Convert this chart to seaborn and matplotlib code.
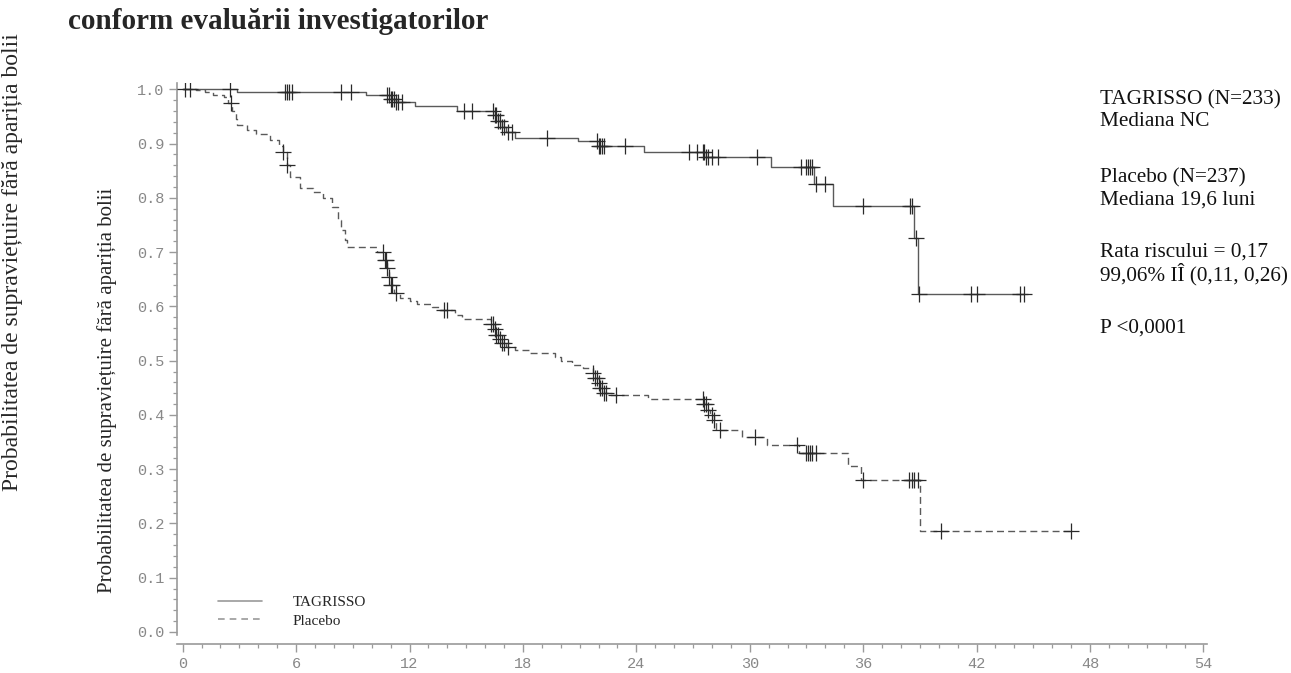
import numpy as np
import pandas as pd
import matplotlib
matplotlib.use("Agg")
import matplotlib.pyplot as plt
from matplotlib.lines import Line2D
from matplotlib.ticker import MultipleLocator, FormatStrFormatter
import seaborn as sns

# ---------------- data ----------------
arms = ["TAGRISSO", "Placebo"]

# TAGRISSO: event times (months) and Kaplan-Meier level after each event
tag_event_t = [2.9, 9.7, 11.0, 11.3, 12.3, 14.5, 16.5, 16.7, 16.9, 17.1, 17.6,
               20.9, 22.0, 24.4, 27.7, 31.1, 33.4, 34.4, 38.7, 38.9]
tag_surv = [0.996, 0.989, 0.983, 0.977, 0.969, 0.961, 0.952, 0.942, 0.931, 0.921, 0.911,
            0.905, 0.896, 0.884, 0.875, 0.856, 0.825, 0.785, 0.726, 0.622]
tag_censor_t = [0.1, 0.4, 2.5, 5.4, 5.5, 5.6, 5.8, 8.4, 8.9, 10.8, 10.9, 11.0, 11.1,
                11.2, 11.3, 11.4, 11.6, 14.9, 15.3, 16.4, 16.5, 16.6, 16.7, 16.8, 16.9,
                17.0, 17.2, 17.4, 19.3, 21.9, 22.0, 22.1, 22.2, 22.3, 23.4, 26.8, 27.2,
                27.5, 27.6, 27.7, 27.8, 28.0, 28.3, 30.4, 32.7, 33.0, 33.1, 33.2, 33.3,
                33.5, 34.0, 36.0, 38.5, 38.6, 38.8, 38.95, 41.7, 42.0, 44.3, 44.5]

# Placebo
pla_event_t = [0.7, 1.2, 1.6, 2.2, 2.4, 2.6, 2.8, 2.9, 3.4, 3.9, 4.6, 5.1, 5.3, 5.5,
               5.7, 6.2, 6.9, 7.4, 7.9, 8.2, 8.4, 8.6, 8.7, 10.3, 10.7, 10.8, 10.9,
               11.0, 11.2, 11.5, 12.0, 12.4, 13.2, 13.6, 14.4, 14.8, 16.3, 16.5, 16.6,
               16.8, 16.9, 17.1, 17.6, 18.3, 19.7, 20.0, 20.6, 21.2, 21.7, 21.8, 22.0,
               22.1, 22.3, 22.5, 24.6, 27.6, 27.8, 27.9, 28.1, 28.2, 29.6, 30.9, 32.6,
               35.2, 35.9, 39.0]
pla_surv = [0.998, 0.995, 0.990, 0.985, 0.975, 0.960, 0.945, 0.934, 0.925, 0.918,
            0.906, 0.895, 0.885, 0.860, 0.838, 0.818, 0.810, 0.800, 0.783, 0.759,
            0.740, 0.722, 0.709, 0.700, 0.685, 0.670, 0.655, 0.640, 0.625, 0.615,
            0.610, 0.605, 0.598, 0.593, 0.584, 0.576, 0.568, 0.558, 0.548, 0.540,
            0.532, 0.525, 0.519, 0.514, 0.507, 0.499, 0.492, 0.486, 0.478, 0.468,
            0.458, 0.449, 0.441, 0.436, 0.429, 0.420, 0.410, 0.400, 0.390, 0.372,
            0.359, 0.344, 0.330, 0.306, 0.280, 0.186]
pla_censor_t = [2.55, 5.3, 5.5, 10.6, 10.7, 10.75, 10.8, 10.9, 11.0, 11.1, 11.3, 13.8,
                14.0, 16.3, 16.4, 16.5, 16.6, 16.7, 16.8, 16.9, 17.0, 17.2, 21.7, 21.8,
                21.9, 22.0, 22.1, 22.2, 22.3, 22.4, 22.9, 27.5, 27.6, 27.7, 27.8, 28.0,
                28.1, 28.4, 30.3, 32.5, 33.0, 33.1, 33.2, 33.3, 33.5, 36.0, 38.4, 38.6,
                38.7, 38.9, 40.1, 47.0]

x_ticks = list(range(0, 55, 6))
y_ticks = [round(v * 0.1, 1) for v in range(11)]

stats_lines = ["TAGRISSO (N=233)", "Mediana NC", "Placebo (N=237)", "Mediana 19,6 luni",
               "Rata riscului = 0,17", "99,06% IÎ (0,11, 0,26)", "P <0,0001"]
title_text = "conform evaluării investigatorilor"
ylabel_text = "Probabilitatea de supraviețuire fără apariția bolii"


def km_frame(arm, ev_t, surv, cens_t):
    t = [0.0] + list(ev_t) + [max(cens_t)]
    s = [1.0] + list(surv) + [surv[-1]]
    line = pd.DataFrame({"t": t, "s": s, "arm": arm})
    ev = np.asarray(ev_t)
    sv = np.asarray([1.0] + list(surv))
    idx = np.searchsorted(ev, np.asarray(cens_t), side="right")
    cens = pd.DataFrame({"t": cens_t, "s": sv[idx], "arm": arm})
    return line, cens


tag_line, tag_cens = km_frame(arms[0], tag_event_t, tag_surv, tag_censor_t)
pla_line, pla_cens = km_frame(arms[1], pla_event_t, pla_surv, pla_censor_t)
lines_df = pd.concat([tag_line, pla_line], ignore_index=True)
cens_df = pd.concat([tag_cens, pla_cens], ignore_index=True)

# ---------------- figure ----------------
sns.set_theme(style="ticks")
plt.rcParams["font.family"] = ["Liberation Serif", "DejaVu Serif"]

W, H = 1291, 673
fig = plt.figure(figsize=(W / 100, H / 100), dpi=100)
ax = fig.add_axes([0.1371, 0.0569, 0.798, 0.820])

line_col = "#5a5a5a"
for arm, ls in zip(arms, ["-", (0, (5, 3))]):
    sns.lineplot(data=lines_df[lines_df["arm"] == arm], x="t", y="s",
                 drawstyle="steps-post", estimator=None, sort=False,
                 color=line_col, linewidth=1.0, linestyle=ls, ax=ax, legend=False)

sns.scatterplot(data=cens_df, x="t", y="s", marker="+", s=140, color="#2a2a2a",
                linewidth=0.9, ax=ax, legend=False, zorder=3)

ax.set_xlim(-0.3, 54.2)
ax.set_ylim(-0.005, 1.012)
ax.set_xticks(x_ticks)
ax.set_yticks(y_ticks)
ax.xaxis.set_minor_locator(MultipleLocator(1))
ax.yaxis.set_minor_locator(MultipleLocator(0.02))
ax.yaxis.set_major_formatter(FormatStrFormatter("%.1f"))
ax.set_xlabel("")
ax.set_ylabel("")

spine_col = "#9a9a9a"
for side in ["top", "right"]:
    ax.spines[side].set_visible(False)
for side in ["left", "bottom"]:
    ax.spines[side].set_color(spine_col)
    ax.spines[side].set_linewidth(1.2)
ax.spines["bottom"].set_position(("outward", 7))

ax.tick_params(axis="both", which="major", length=6, width=1.0, color=spine_col,
               labelcolor="#888888", labelsize=11)
ax.tick_params(axis="both", which="minor", length=3, width=0.9, color=spine_col)
ax.tick_params(axis="x", which="major", pad=3)
ax.tick_params(axis="y", which="major", pad=3)
for lab in ax.get_xticklabels() + ax.get_yticklabels():
    lab.set_family(["Liberation Mono", "DejaVu Sans Mono"])

# legend
handles = [Line2D([], [], color="#9a9a9a", lw=1.2, ls="-"),
           Line2D([], [], color="#9a9a9a", lw=1.2, ls=(0, (4, 3)))]
ax.legend(handles, arms, loc="lower left", bbox_to_anchor=(0.026, -0.012),
          frameon=False, handlelength=2.9, handletextpad=2.0, labelspacing=0.3,
          prop={"family": "Liberation Serif", "size": 11})

# texts
fig.text(68 / W, 1 - 29 / H, title_text, ha="left", va="baseline", fontsize=21,
         fontweight="bold", family="Liberation Serif")
fig.text(107 / W, 1 - 390 / H, ylabel_text, rotation=90, ha="center", va="center",
         fontsize=15, family="Liberation Serif")
fig.text(13 / W, 1 - 262 / H, ylabel_text, rotation=90, ha="center", va="center",
         fontsize=17, family="Liberation Serif")

stat_y_px = [100, 122, 178, 200, 252, 274, 328]
for txt, ypx in zip(stats_lines, stat_y_px):
    fig.text(1100 / W, 1 - ypx / H, txt, ha="left", va="center",
             fontsize=15.3, family="Liberation Serif", color="#111111")

fig.savefig("out.png", dpi=100, facecolor="white")
